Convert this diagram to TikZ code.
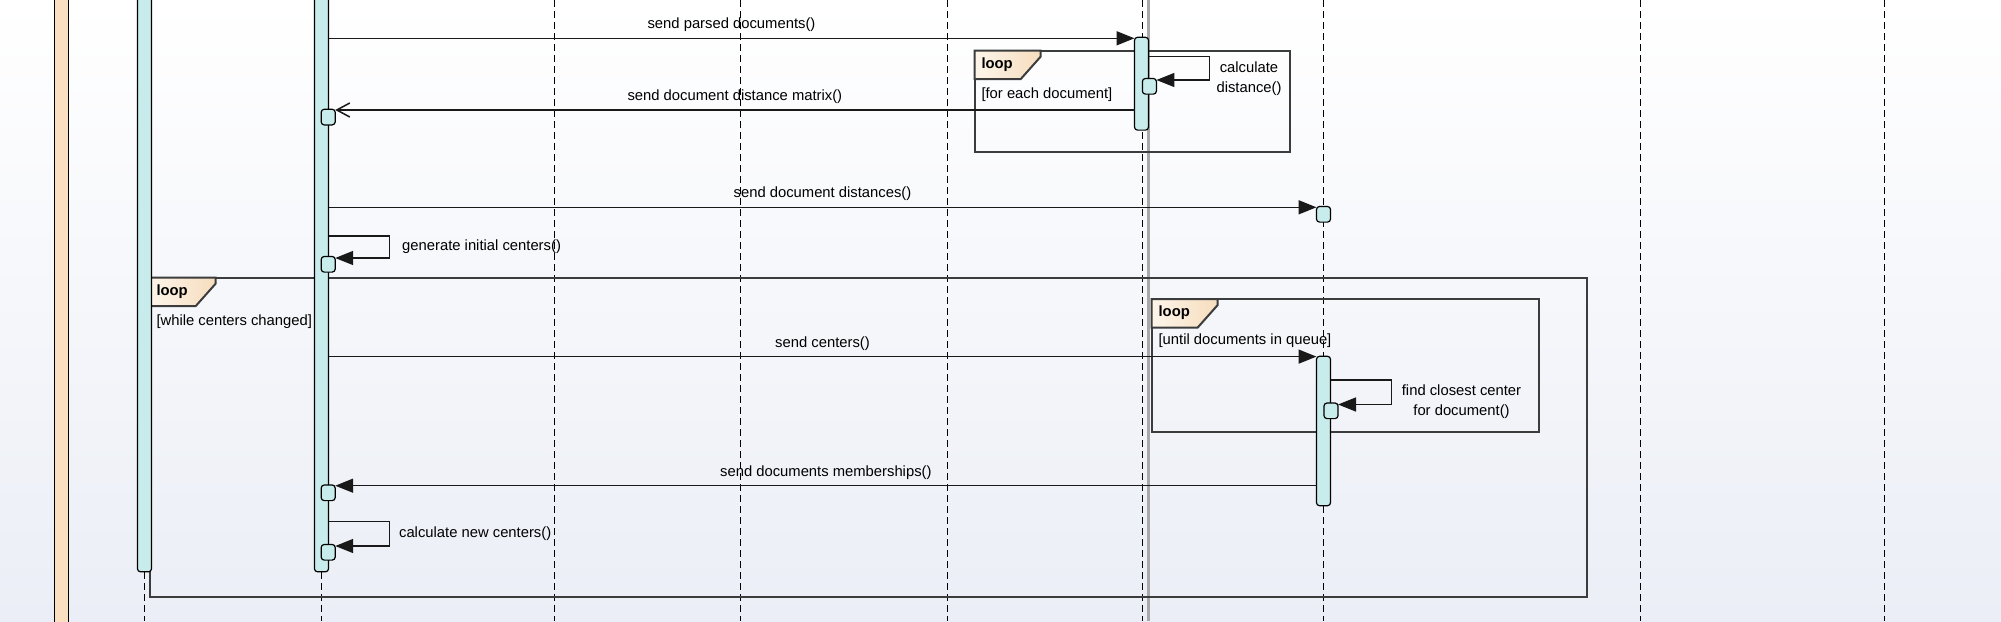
\documentclass[tikz,border=0pt]{standalone}
\usepackage{fontspec}
\setmainfont{Liberation Sans}
\usetikzlibrary{arrows.meta,calc}
\definecolor{barcyan}{RGB}{200,236,236}
\definecolor{actorwheat}{RGB}{250,224,192}
\definecolor{tablight}{RGB}{253,245,234}
\definecolor{tabdark}{RGB}{246,221,190}
\definecolor{framegray}{RGB}{60,60,60}
\definecolor{sepgray}{RGB}{168,168,168}
\definecolor{bgbottom}{RGB}{235,238,246}
\newcommand{\msgfont}{\fontsize{7.4pt}{10pt}\selectfont}
\tikzset{
    lifeline/.style = {
        dash pattern=on 3.5pt off 2pt,
        line width=0.6pt
    },
    actbar/.style = {
        rectangle,
        rounded corners=1.5pt,
        draw=black,
        fill=barcyan,
        line width=0.6pt,
        minimum width=7pt,
        inner sep=0pt,
        outer sep=0pt,
        anchor=north
    },
    execbox/.style = {
        actbar,
        minimum height=7.8pt
    },
    msg/.style = {
        draw=black!90,
        line width=0.75pt,
        -{Triangle[length=9pt,width=7pt]}
    },
    reply/.style = {
        msg,
        -{Straight Barb[length=6.5pt,width=7pt]}
    },
    msglabel/.style = {
        midway,
        anchor=south,
        inner xsep=0pt,
        inner ysep=2.8pt,
        font=\msgfont
    },
    selfnote/.style = {
        anchor=west,
        inner sep=0pt,
        font=\msgfont
    },
    frame/.style = {
        draw=framegray,
        line width=1pt
    },
    looptab/.style = {
        draw=framegray,
        line width=1pt,
        left color=tablight,
        right color=tabdark
    },
    loopword/.style = {
        anchor=west,
        inner sep=0pt,
        font=\msgfont\bfseries
    },
    guard/.style = {
        anchor=west,
        inner sep=0pt,
        font=\msgfont
    }
}

\begin{document}
\begin{tikzpicture}[x=0.5pt,y=-0.5pt]
    \useasboundingbox (0,0) rectangle (2001,621);
    \shade[top color=white,bottom color=bgbottom] (0,0) rectangle (2001,621);

    % lifelines
    \foreach \lx in {144.5,321.5,554.5,740.5,947.5,1142.5,1323.5,1640.5,1884.5}
        \draw[lifeline] (\lx,0) -- (\lx,621);
    \draw[sepgray,line width=1.5pt] (1148.5,0) -- (1148.5,621);
    \draw[fill=actorwheat,line width=0.6pt] (54.5,-5) rectangle (68.5,626);

    % combined fragments
    \coordinate (fr1) at (974.6,50.7);
    \coordinate (fr2) at (149.6,277.7);
    \coordinate (fr3) at (1151.7,299);
    \draw[frame] (fr1) rectangle (1289.7,152.3);
    \draw[frame] (fr2) rectangle (1586.5,596.7);
    \draw[frame] (fr3) rectangle (1539,431.7);
    \foreach \fr in {fr1,fr2,fr3}
        \filldraw[looptab] (\fr) -- ++(66,0) -- ++(0,6) -- ++(-20,22.5) -- ++(-46,0) -- cycle;
    \node[loopword] (kw1) at ($(fr1)+(6.5,13.5)$) {loop};
    \node[loopword] (kw2) at ($(fr2)+(6.5,13.5)$) {loop};
    \node[loopword] (kw3) at ($(fr3)+(6.5,13.5)$) {loop};
    \node[guard] (g1) at ($(fr1)+(6.5,43.5)$) {[for each document]};
    \node[guard] (g2) at ($(fr2)+(6.5,43.5)$) {[while centers changed]};
    \node[guard] (g3) at ($(fr3)+(6.5,42)$) {[until documents in queue]};

    % activations
    \node[actbar, minimum height=290.9pt] (bar1) at (144.5,-10) {};
    \node[actbar, minimum height=290.9pt] (bar2) at (321.5,-10) {};
    \node[actbar, minimum height=46.4pt] (bar6) at (1141.5,37.3) {};
    \node[actbar, minimum height=74.7pt] (bar7) at (1323.5,356.3) {};
    \node[execbox] (e1) at (328.2,109.3) {};
    \node[execbox] (e2) at (328.2,256.5) {};
    \node[execbox] (e3) at (328.2,485) {};
    \node[execbox] (e4) at (328.2,544.5) {};
    \node[execbox] (e5) at (1149.4,78.5) {};
    \node[execbox] (e6) at (1323.5,206.5) {};
    \node[execbox] (e7) at (1331,403) {};

    % messages
    \coordinate (y1) at (0,38.3);
    \coordinate (y2) at (0,110);
    \coordinate (y3) at (0,207.3);
    \coordinate (y4) at (0,356.6);
    \coordinate (y5) at (0,485.7);
    \draw[msg] (bar2.east |- y1) -- node[msglabel] {send parsed documents()} (bar6.west |- y1);
    \draw[reply] (bar6.west |- y2) -- node[msglabel] {send document distance matrix()} (e1.east |- y2);
    \draw[msg] (bar2.east |- y3) -- node[msglabel] {send document distances()} (e6.west |- y3);
    \draw[msg] (bar2.east |- y4) -- node[msglabel] {send centers()} (bar7.west |- y4);
    \draw[msg] (bar7.west |- y5) -- node[msglabel] {send documents memberships()} (e3.east |- y5);

    % self calls
    \coordinate (s1) at (389.7,236);
    \coordinate (s2) at (1209.3,56.3);
    \coordinate (s3) at (1391.6,380);
    \coordinate (s4) at (389.7,521.7);
    \draw[msg] (bar2.east |- s1) -- (s1) |- ($(e2.north east)+(0,1.5)$);
    \draw[msg] (bar6.east |- s2) -- (s2) |- ($(e5.north east)+(0,1.5)$);
    \draw[msg] (bar7.east |- s3) -- (s3) |- ($(e7.north east)+(0,1.5)$);
    \draw[msg] (bar2.east |- s4) -- (s4) |- ($(e4.north east)+(0,1.5)$);
    \node[selfnote] (n1) at (401.8,247) {generate initial centers()};
    \node[selfnote, anchor=center, align=center] (n2) at (1249,78.3) {calculate\\distance()};
    \node[selfnote, anchor=center, align=center] (n3) at (1461.5,402) {find closest center\\for document()};
    \node[selfnote] (n4) at (398.7,533.5) {calculate new centers()};
\end{tikzpicture}
\end{document}
